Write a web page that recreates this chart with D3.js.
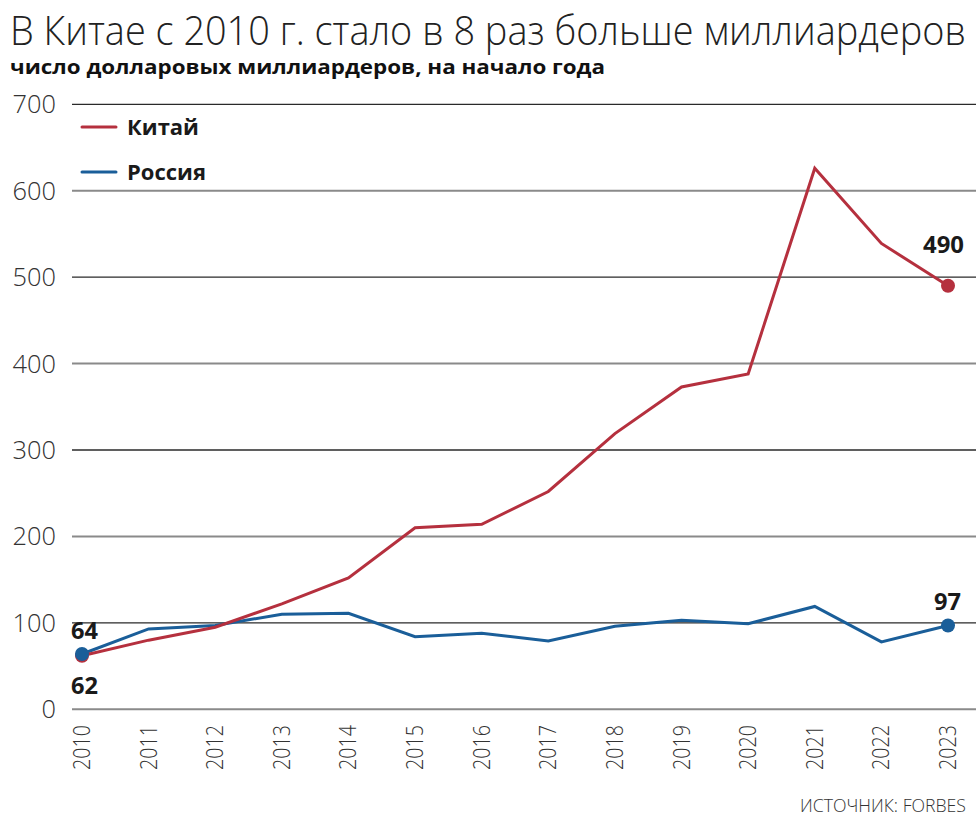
<!DOCTYPE html>
<html><head><meta charset="utf-8">
<script src="https://cdn.jsdelivr.net/npm/d3@7"></script>
<style>body{margin:0;background:#fff}svg{display:block}</style>
</head><body>
<svg id="c" width="980" height="826"></svg>
<script>
const years = [2010,2011,2012,2013,2014,2015,2016,2017,2018,2019,2020,2021,2022,2023];
const china = [62,80,95,122,152,210,214,252,319,373,388,626,539,490];
const russia = [64,93,97,110,111,84,88,79,96,103,99,119,78,97];
const yTicks = [0,100,200,300,400,500,600,700];
const seriesNames = ["Китай","Россия"];
const colors = ["#b5303e","#1a5e99"];
const titleText = "В Китае с 2010 г. стало в 8 раз больше миллиардеров";
const subtitleText = "число долларовых миллиардеров, на начало года";
const sourceText = "ИСТОЧНИК: FORBES";

const svg = d3.select("#c");
const x = d3.scalePoint().domain(years).range([82,948]);
const y = d3.scaleLinear().domain([0,700]).range([709.3,104.3]);
const FONT = "'Open Sans', sans-serif";

function fit(sel, w){ sel.attr("textLength", w).attr("lengthAdjust","spacingAndGlyphs"); return sel; }

// title
fit(svg.append("text").attr("x",10).attr("y",45).attr("font-family",FONT).attr("font-weight",300)
  .attr("font-size",40).attr("fill","#222").text(titleText), 956);
fit(svg.append("text").attr("x",10).attr("y",74).attr("font-family",FONT).attr("font-weight",700)
  .attr("font-size",20).attr("fill","#111").text(subtitleText), 595);

// gridlines
svg.append("g").selectAll("line").data(yTicks).join("line")
  .attr("x1",72).attr("x2",976).attr("y1",d=>y(d)).attr("y2",d=>y(d))
  .attr("stroke",d=>(d/100)%2===1?"#2a2a2a":"#8a8a8a").attr("stroke-width",d=>(d/100)%2===1?1.3:2);

// y axis labels
svg.append("g").selectAll("text").data(yTicks).join("text")
  .attr("x",56).attr("y",d=>y(d)+9).attr("text-anchor","end")
  .attr("font-family",FONT).attr("font-weight",300).attr("font-size",25).attr("fill","#333")
  .each(function(d){ const s=String(d); d3.select(this).text(s).attr("textLength", s.length*14.5).attr("lengthAdjust","spacingAndGlyphs"); });

// x axis labels
svg.append("g").selectAll("text").data(years).join("text")
  .attr("transform",d=>`translate(${x(d)+8},770) rotate(-90)`)
  .attr("font-family",FONT).attr("font-weight",300).attr("font-size",23).attr("fill","#333")
  .attr("textLength",45).attr("lengthAdjust","spacingAndGlyphs")
  .text(d=>d);

// lines
const line = d3.line().x((d,i)=>x(years[i])).y(d=>y(d));
[russia, china].forEach((s,k)=>{
  const col = k===0?colors[1]:colors[0];
  svg.append("path").datum(s).attr("d",line).attr("fill","none")
    .attr("stroke",col).attr("stroke-width",3).attr("stroke-linejoin","miter");
});
// end dots
[[china,colors[0]],[russia,colors[1]]].forEach(([s,col])=>{
  svg.append("g").selectAll("circle").data([0,s.length-1]).join("circle")
    .attr("cx",i=>x(years[i])).attr("cy",i=>y(s[i])).attr("r",7).attr("fill",col);
});

// value labels
const lab = (tx,xx,yy,anchor)=>svg.append("text").attr("x",xx).attr("y",yy).attr("text-anchor",anchor)
  .attr("font-family",FONT).attr("font-weight",700).attr("font-size",23).attr("fill","#1a1a1a").text(tx);
lab(russia[0], x(years[0])-11, y(russia[0])-15, "start").attr("textLength",27).attr("lengthAdjust","spacingAndGlyphs");
lab(china[0], x(years[0])-11, y(china[0])+38, "start").attr("textLength",27).attr("lengthAdjust","spacingAndGlyphs");
lab(china[13], x(years[13])+16, y(china[13])-33, "end").attr("textLength",41).attr("lengthAdjust","spacingAndGlyphs");
lab(russia[13], x(years[13])+13, y(russia[13])-15, "end").attr("textLength",27).attr("lengthAdjust","spacingAndGlyphs");

// legend
const lg = svg.append("g");
seriesNames.forEach((n,i)=>{
  const yy = 127 + i*45;
  lg.append("line").attr("x1",82).attr("x2",116).attr("y1",yy).attr("y2",yy)
    .attr("stroke",colors[i]).attr("stroke-width",3).attr("stroke-linecap","round");
  lg.append("text").attr("x",127).attr("y",yy+8).attr("font-family",FONT).attr("font-weight",700)
    .attr("font-size",22).attr("fill","#1a1a1a").text(n);
});

// source
svg.append("text").attr("x",966).attr("y",812).attr("text-anchor","end")
  .attr("font-family",FONT).attr("font-weight",300).attr("font-size",18).attr("fill","#333")
  .attr("textLength",166).attr("lengthAdjust","spacingAndGlyphs").text(sourceText);
</script>
</body></html>
